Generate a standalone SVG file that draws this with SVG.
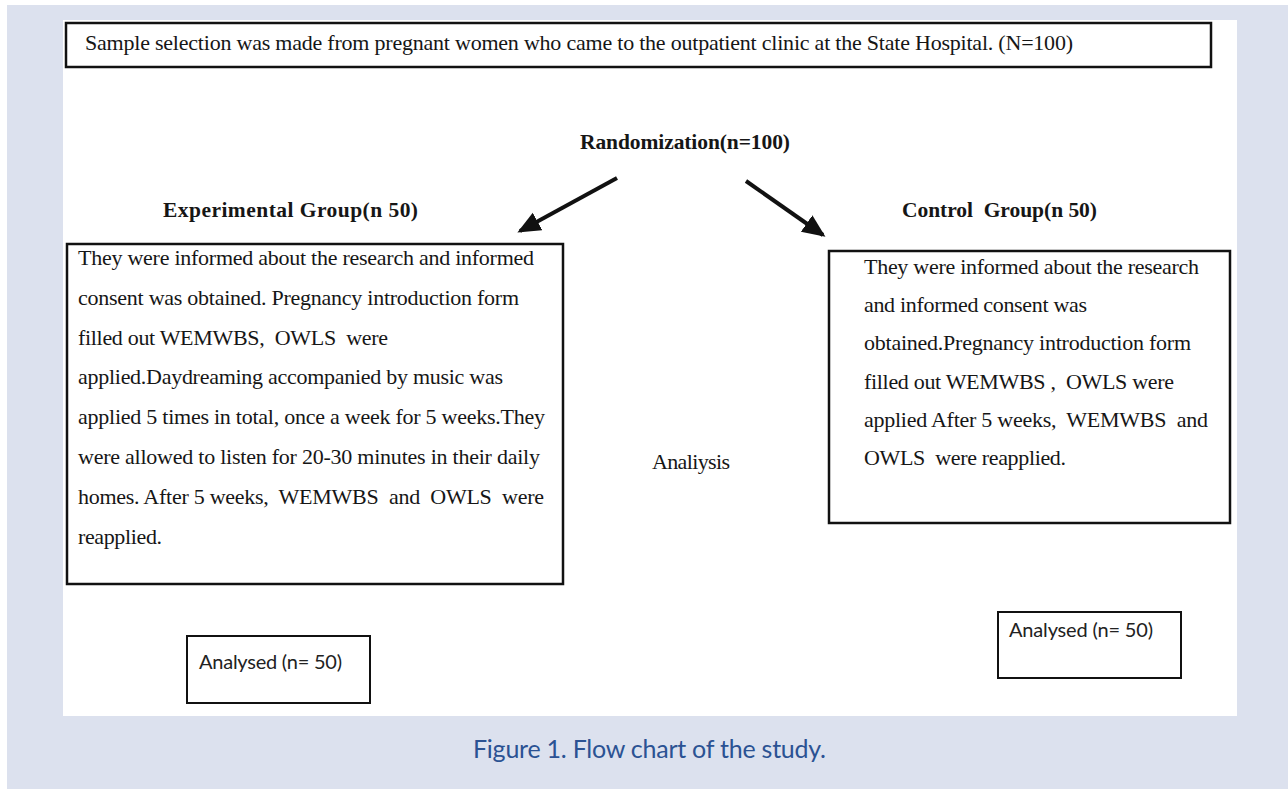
<svg xmlns="http://www.w3.org/2000/svg" width="1288" height="789" viewBox="0 0 1288 789">
<style>
.box{fill:#fff;stroke:#111;stroke-width:2.5}
.sbox{fill:#fff;stroke:#111;stroke-width:2}
.t{font-family:"Liberation Serif","Times New Roman",serif;font-size:22px;fill:#161616}
.b{font-family:"Liberation Serif","Times New Roman",serif;font-size:21.5px;font-weight:bold;fill:#161616}
.c{font-family:Lato,"Open Sans",sans-serif;font-size:20px;fill:#222}
.cap{font-family:Lato,"Open Sans",sans-serif;font-size:25px;fill:#2b5293}
.arrow{stroke:#111;stroke-width:4;fill:none}
</style>
<defs>
<marker id="ah" markerUnits="userSpaceOnUse" markerWidth="26" markerHeight="22" refX="20" refY="10" orient="auto" viewBox="0 0 26 22">
<path d="M0,0 L23,10 L0,20 Z" fill="#111"/>
</marker>
</defs>
<rect x="0" y="0" width="1288" height="789" fill="#fff"/>
<rect x="7" y="5" width="1281" height="784" fill="#dce1ee"/>
<rect x="63" y="20" width="1174" height="696" fill="#fff"/>

<g id="top">
<rect class="box" x="66" y="23" width="1145" height="44"/>
<text class="t" x="85" y="50" textLength="988">Sample selection was made from pregnant women who came to the outpatient clinic at the State Hospital. (N=100)</text>
</g>

<g id="randomization">
<text class="b" x="580" y="149" textLength="210">Randomization(n=100)</text>
</g>

<g id="exp-label">
<text class="b" x="163" y="217" textLength="255">Experimental Group(n 50)</text>
</g>

<g id="ctrl-label">
<text class="b" x="902" y="217" textLength="195" xml:space="preserve">Control  Group(n 50)</text>
</g>

<g id="exp-box">
<rect class="box" x="67" y="244" width="496" height="340"/>
<text class="t" x="78" y="265" textLength="456">They were informed about the research and informed</text>
<text class="t" x="78" y="305" textLength="441">consent was obtained. Pregnancy introduction form</text>
<text class="t" x="78" y="345" textLength="310" xml:space="preserve">filled out WEMWBS,  OWLS  were</text>
<text class="t" x="78" y="384" textLength="425">applied.Daydreaming accompanied by music was</text>
<text class="t" x="78" y="424" textLength="467">applied 5 times in total, once a week for 5 weeks.They</text>
<text class="t" x="78" y="464" textLength="462">were allowed to listen for 20-30 minutes in their daily</text>
<text class="t" x="78" y="504" textLength="466" xml:space="preserve">homes. After 5 weeks,  WEMWBS  and  OWLS  were</text>
<text class="t" x="78" y="544" textLength="84">reapplied.</text>
</g>

<g id="ctrl-box">
<rect class="box" x="829" y="251" width="401" height="272"/>
<text class="t" x="864" y="274" textLength="335">They were informed about the research</text>
<text class="t" x="864" y="312" textLength="223">and informed consent was</text>
<text class="t" x="864" y="350" textLength="327">obtained.Pregnancy introduction form</text>
<text class="t" x="864" y="389" textLength="310" xml:space="preserve">filled out WEMWBS ,  OWLS were</text>
<text class="t" x="864" y="427" textLength="344" xml:space="preserve">applied After 5 weeks,  WEMWBS  and</text>
<text class="t" x="864" y="465" textLength="202" xml:space="preserve">OWLS  were reapplied.</text>
</g>

<g id="analysis">
<text class="t" x="652" y="469" textLength="78">Analiysis</text>
</g>

<g id="exp-analysed">
<rect class="sbox" x="187" y="636" width="183" height="67"/>
<text class="c" x="199" y="669" textLength="143" xml:space="preserve">Analysed (n= 50)</text>
</g>

<g id="ctrl-analysed">
<rect class="sbox" x="998" y="612" width="183" height="66"/>
<text class="c" x="1009" y="637" textLength="144" xml:space="preserve">Analysed (n= 50)</text>
</g>

<g id="connectors">
<line class="arrow" x1="617" y1="178" x2="520" y2="231" marker-end="url(#ah)"/>
<line class="arrow" x1="746" y1="181" x2="823" y2="235" marker-end="url(#ah)"/>
</g>

<text class="cap" x="473" y="758" textLength="353">Figure 1. Flow chart of the study.</text>
</svg>
